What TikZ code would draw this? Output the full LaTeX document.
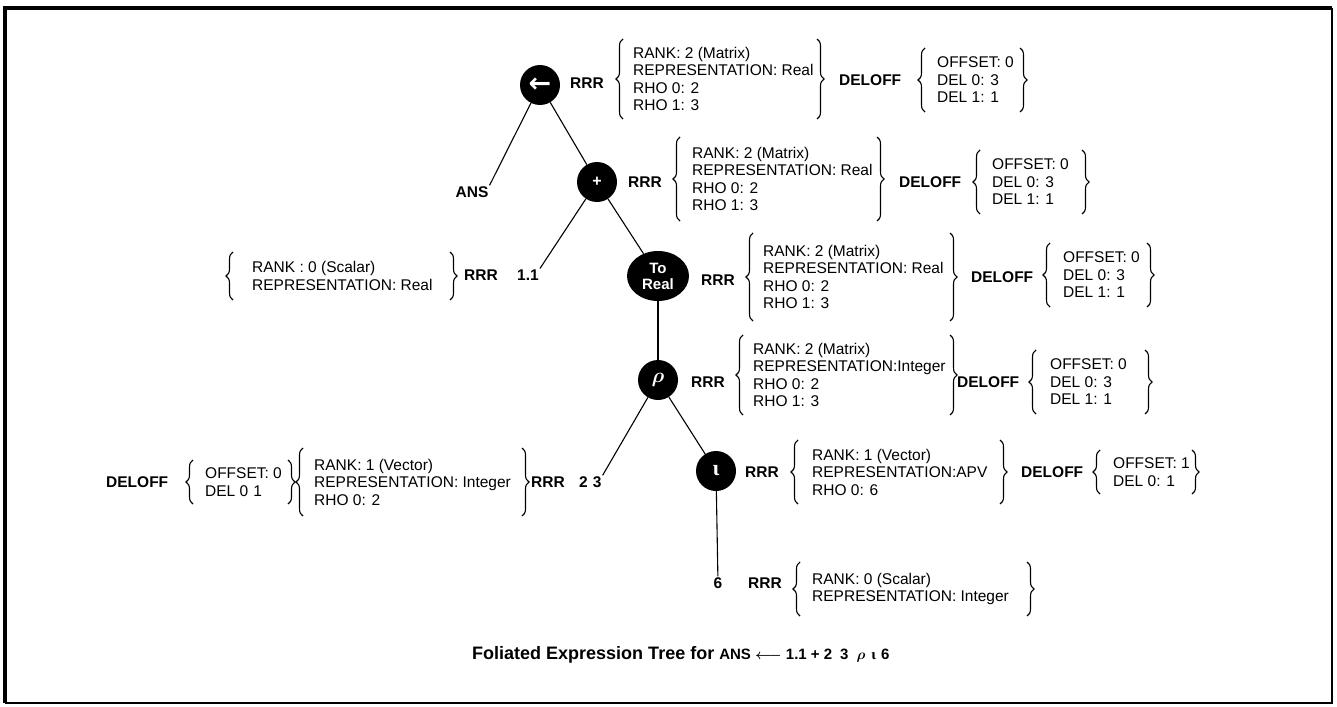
\documentclass[tikz,border=0pt]{standalone}
\usepackage{fontspec}
\usepackage{amsmath}
\setmainfont{Liberation Sans}
\newfontfamily\symbolfont{DejaVu Sans}
\newfontfamily\greekserif{Liberation Serif}
\usetikzlibrary{decorations.pathreplacing,shapes.geometric}

\tikzset{
  op/.style={circle, fill=black, text=white, minimum size=40pt, inner sep=0pt,
             font=\bfseries\fontsize{16}{17}\selectfont},
  lbl/.style={font=\bfseries\fontsize{15.5}{18}\selectfont, inner sep=1pt},
  info/.style={font=\fontsize{15.5}{17.5}\selectfont, align=left, anchor=west, inner sep=0pt},
  edge/.style={line width=1.1pt},
  brc/.style={decorate, decoration={brace, amplitude=7pt}, line width=1.1pt},
}

% #1 name, #2 x of left brace, #3 x of text, #4 x of right brace,
% #5 y centre, #6 half height of the braces, #7 lines of text
\newcommand\infogroup[7]{%
  \node[info] (#1) at (#3,#5) {#7};
  \draw[brc] (#2,#5+#6) -- (#2,#5-#6);
  \draw[brc] (#4,#5-#6) -- (#4,#5+#6);
}

\begin{document}
\begin{tikzpicture}[x=1pt,y=-1pt]
\useasboundingbox (0,0) rectangle (1337,706);

% frame
\draw[line width=2pt] (1332,8) -- (1332,703) -- (5,703);
\draw[line width=4.5pt, line join=miter] (5,703) -- (5,8) -- (1332,8);

% assignment
\node[op, font=\symbolfont\bfseries\fontsize{27}{27}\selectfont] (assign) at (540,85) {←};
\node[lbl] (rrrA) at (587,83) {RRR};
\infogroup{repA}{623}{633}{817}{79}{40}{RANK: 2 (Matrix)\\REPRESENTATION: Real\\RHO 0: 2\\RHO 1: 3}
\node[lbl, anchor=west] (delA) at (838,80) {DELOFF};
\infogroup{offA}{925}{937}{1020}{80}{32}{OFFSET: 0\\DEL 0: 3\\DEL 1: 1}

\node[lbl] (ans) at (472,192) {ANS};

% addition
\node[op] (plus) at (597,182) {+};
\node[lbl] (rrrB) at (645,182) {RRR};
\infogroup{repB}{680}{692}{877}{179}{42}{RANK: 2 (Matrix)\\REPRESENTATION: Real\\RHO 0: 2\\RHO 1: 3}
\node[lbl, anchor=west] (delB) at (898,182) {DELOFF};
\infogroup{offB}{980}{992}{1082}{182}{32}{OFFSET: 0\\DEL 0: 3\\DEL 1: 1}

% scalar 1.1
\node[lbl] (v11) at (528,275) {1.1};
\node[lbl] (rrrC) at (481,275) {RRR};
\infogroup{repC}{233}{252}{450}{276}{24}{RANK : 0 (Scalar)\\REPRESENTATION: Real}

% conversion to real
\node[op, ellipse, minimum width=62pt, minimum height=50pt, align=center,
      font=\bfseries\fontsize{15}{16}\selectfont] (toreal) at (658,276) {To\\Real};
\node[lbl] (rrrD) at (718,280) {RRR};
\infogroup{repD}{753}{763}{950}{277}{44}{RANK: 2 (Matrix)\\REPRESENTATION: Real\\RHO 0: 2\\RHO 1: 3}
\node[lbl, anchor=west] (delD) at (970,277) {DELOFF};
\infogroup{offD}{1050}{1063}{1147}{275}{32}{OFFSET: 0\\DEL 0: 3\\DEL 1: 1}

% reshape
\node[op, font=\fontsize{20}{20}\selectfont] (rho) at (658,380) {$\boldsymbol{\rho}$};
\node[lbl] (rrrE) at (708,382) {RRR};
\infogroup{repE}{743}{753}{950}{375}{40}{RANK: 2 (Matrix)\\REPRESENTATION:Integer\\RHO 0: 2\\RHO 1: 3}
\node[lbl, anchor=west] (delE) at (956,382) {DELOFF};
\infogroup{offE}{1036}{1050}{1145}{382}{32}{OFFSET: 0\\DEL 0: 3\\DEL 1: 1}

% vector 2 3
\node[lbl, anchor=west] (v23) at (578,482) {2\hspace{5pt}3};
\node[lbl, anchor=west] (rrrG) at (530,482) {RRR};
\infogroup{repG}{303}{314}{522}{482}{34}{RANK: 1 (Vector)\\REPRESENTATION: Integer\\RHO 0: 2}
\infogroup{offG}{193}{205}{288}{482}{22}{OFFSET: 0\\DEL 0\hspace{5pt}1}
\node[lbl, anchor=west] (delG) at (105,482) {DELOFF};

% index generator
\node[op, font=\greekserif\bfseries\fontsize{22}{22}\selectfont] (iota) at (716,471) {ι};
\node[lbl] (rrrF) at (762,472) {RRR};
\infogroup{repF}{798}{812}{1000}{472}{32}{RANK: 1 (Vector)\\REPRESENTATION:APV\\RHO 0: 6}
\node[lbl, anchor=west] (delF) at (1020,472) {DELOFF};
\infogroup{offF}{1100}{1113}{1192}{472}{22}{OFFSET: 1\\DEL 0: 1}

% scalar 6
\node[lbl] (six) at (718,583) {6};
\node[lbl] (rrrH) at (765,583) {RRR};
\infogroup{repH}{800}{812}{1027}{589}{27}{RANK: 0 (Scalar)\\REPRESENTATION: Integer}

% tree edges
\draw[edge] (assign) -- (ans.north east);
\draw[edge] (assign) -- (plus);
\draw[edge] (plus) -- (v11.north east);
\draw[edge] (plus) -- (toreal);
\draw[edge] (toreal) -- (rho);
\draw[edge] (rho) -- (v23.north east);
\draw[edge] (rho) -- (iota);
\draw[edge] (iota) -- (six);

% caption
\node[anchor=west, inner sep=0pt, font=\bfseries\fontsize{18}{20}\selectfont] (cap) at (472,655)
  {Foliated Expression Tree for {\fontsize{15}{15}\selectfont ANS $\boldsymbol{\longleftarrow}$ 1.1 + 2\hspace{8pt}3\hspace{8pt}$\boldsymbol{\rho}$\hspace{6pt}{\greekserif ι}\hspace{5pt}6}};
\end{tikzpicture}
\end{document}
